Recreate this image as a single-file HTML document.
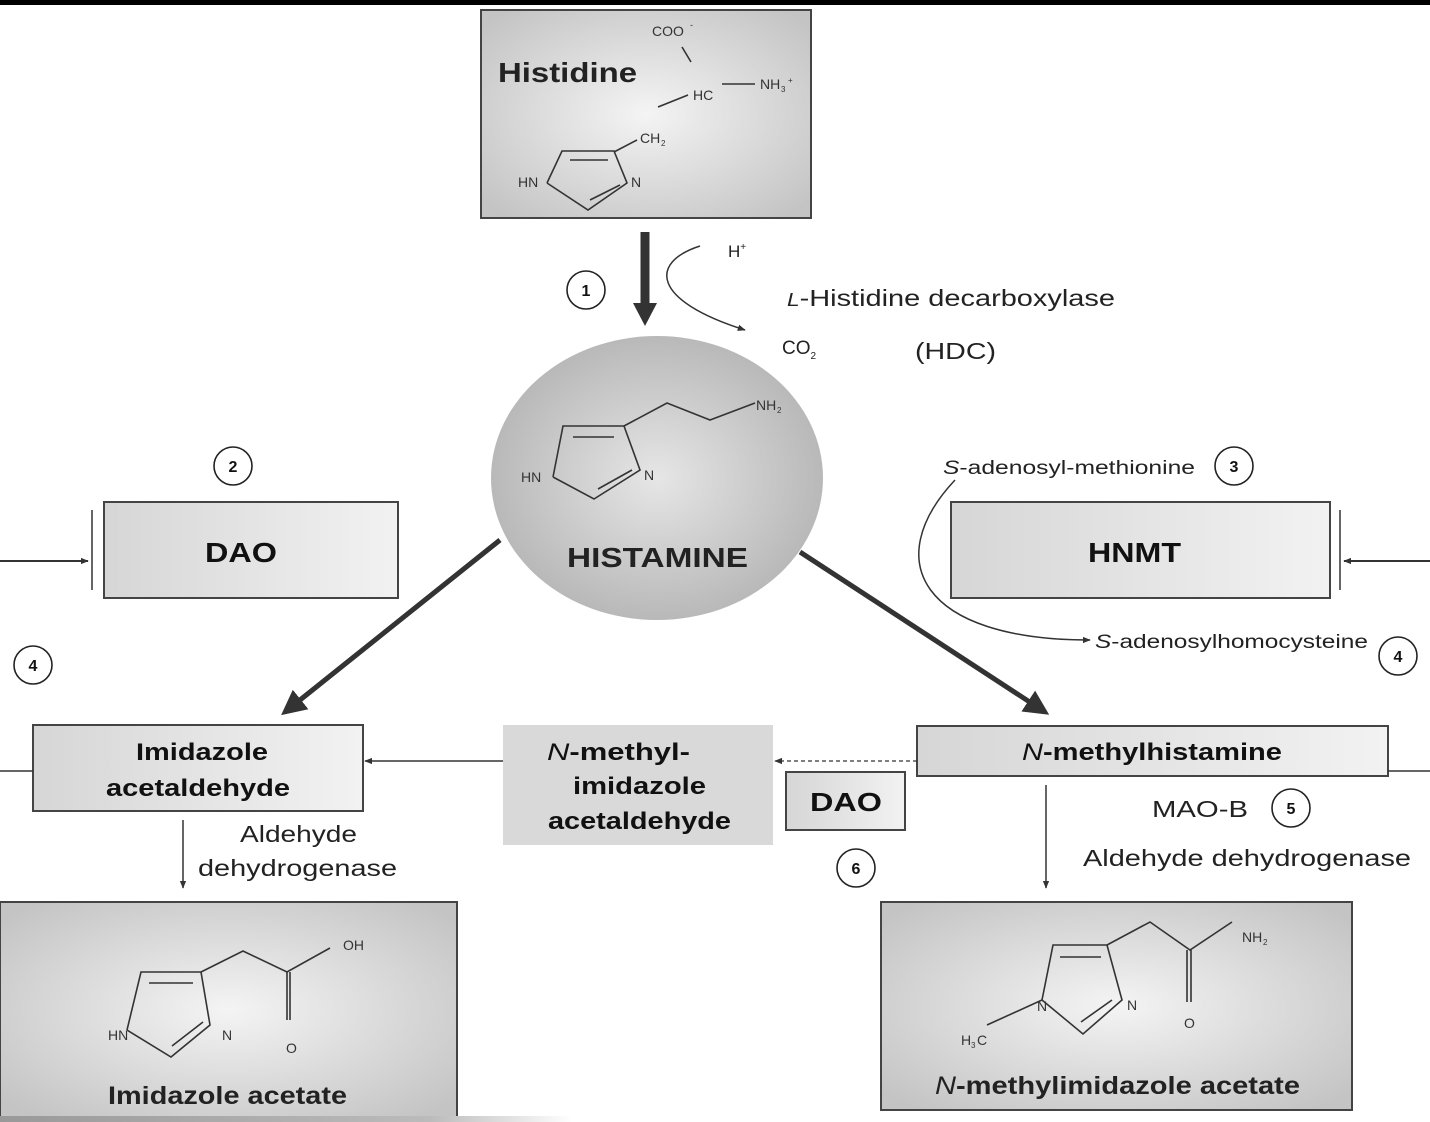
<!DOCTYPE html>
<html><head><meta charset="utf-8"><style>
html,body{margin:0;padding:0;background:#fff;}
svg{display:block;font-family:"Liberation Sans",sans-serif;}
</style></head><body>
<svg width="1430" height="1122" viewBox="0 0 1430 1122" xmlns="http://www.w3.org/2000/svg">
<defs>
<radialGradient id="g" cx="50%" cy="50%" r="65%"><stop offset="0" stop-color="#f4f4f4"/><stop offset="1" stop-color="#c4c4c4"/></radialGradient>
<radialGradient id="ge" cx="50%" cy="50%" r="55%"><stop offset="0" stop-color="#e6e6e6"/><stop offset="1" stop-color="#b4b4b4"/></radialGradient>
<linearGradient id="gb" x1="0" x2="1"><stop offset="0" stop-color="#d6d6d6"/><stop offset="1" stop-color="#f2f2f2"/></linearGradient>
<linearGradient id="bot" x1="0" x2="1"><stop offset="0" stop-color="#999"/><stop offset="0.3" stop-color="#bbb"/><stop offset="0.4" stop-color="#fff"/></linearGradient>
<marker id="ah" viewBox="0 0 10 10" refX="9" refY="5" markerWidth="8" markerHeight="8" orient="auto-start-reverse" markerUnits="userSpaceOnUse"><path d="M0,1 L10,5 L0,9 z" fill="#333"/></marker>
<marker id="ahb" viewBox="0 0 10 10" refX="8" refY="5" markerWidth="5" markerHeight="5" orient="auto"><path d="M0,0 L10,5 L0,10 z" fill="#333"/></marker>
</defs>
<rect x="0" y="0" width="1430" height="5" fill="#000"/>

<g stroke="#444" stroke-width="2">
<rect x="481" y="10" width="330" height="208" fill="url(#g)"/>
<rect x="104" y="502" width="294" height="96" fill="url(#gb)"/>
<rect x="951" y="502" width="379" height="96" fill="url(#gb)"/>
<rect x="33" y="725" width="330" height="86" fill="url(#gb)"/>
<rect x="503" y="725" width="270" height="120" fill="#d9d9d9" stroke="none"/>
<rect x="917" y="726" width="471" height="50" fill="url(#gb)"/>
<rect x="786" y="772" width="119" height="58" fill="url(#gb)"/>
<rect x="0" y="902" width="457" height="216" fill="url(#g)"/>
<rect x="881" y="902" width="471" height="208" fill="url(#g)"/>
</g>
<rect x="0" y="1116" width="1430" height="6" fill="url(#bot)"/>
<ellipse cx="657" cy="478" rx="166" ry="142" fill="url(#ge)"/>

<g stroke="#333" stroke-width="1.6" fill="none">
<line x1="682" y1="47" x2="691" y2="62"/><line x1="658" y1="107" x2="688" y2="95"/><line x1="722" y1="84" x2="755" y2="84"/>
<line x1="614" y1="152" x2="637" y2="140"/>
<polyline points="547,183 562,151 614,151 627,183 588,210 547,183"/>
<line x1="570" y1="160" x2="608" y2="160"/><line x1="590" y1="200" x2="620" y2="185"/>
</g>
<g font-size="14" fill="#333"><text x="652" y="36">COO</text><text x="690" y="28" font-size="9">-</text><text x="693" y="100">HC</text><text x="760" y="89">NH</text><text x="781" y="92" font-size="8">3</text><text x="788" y="83" font-size="8">+</text><text x="640" y="143">CH</text><text x="661" y="146" font-size="8">2</text><text x="518" y="187">HN</text><text x="631" y="187">N</text></g>
<text x="498" y="82" font-size="28" font-weight="bold" fill="#222" textLength="139" lengthAdjust="spacingAndGlyphs">Histidine</text>

<g stroke="#333" stroke-width="1.6" fill="none">
<polyline points="553,477 563,426 624,426 640,470 594,499 553,477"/>
<line x1="573" y1="437" x2="614" y2="437"/><line x1="598" y1="489" x2="632" y2="470"/>
<polyline points="624,426 667,403 710,420 755,403"/>
</g>
<g font-size="14" fill="#333"><text x="521" y="482">HN</text><text x="644" y="480">N</text><text x="756" y="410">NH</text><text x="777" y="413" font-size="8">2</text></g>
<text x="567" y="567" font-size="28" font-weight="bold" fill="#222" textLength="181" lengthAdjust="spacingAndGlyphs">HISTAMINE</text>

<g stroke="#333" stroke-width="1.6" fill="none">
<polyline points="127,1030 141,972 201,972 210,1025 171,1057 127,1030"/>
<line x1="149" y1="983" x2="193" y2="983"/><line x1="172" y1="1046" x2="203" y2="1022"/>
<polyline points="201,972 243,951 287,972 330,948"/>
<line x1="287" y1="972" x2="287" y2="1020"/><line x1="290" y1="972" x2="290" y2="1020"/>
</g>
<g font-size="14" fill="#333"><text x="108" y="1040">HN</text><text x="222" y="1040">N</text><text x="286" y="1053">O</text><text x="343" y="950">OH</text></g>
<text x="108" y="1104" font-size="25" font-weight="bold" fill="#222" textLength="239" lengthAdjust="spacingAndGlyphs">Imidazole acetate</text>

<g stroke="#333" stroke-width="1.6" fill="none">
<polyline points="1042,1000 1053,945 1107,945 1122,1000 1083,1034 1042,1000"/>
<line x1="1060" y1="957" x2="1101" y2="957"/><line x1="1081" y1="1022" x2="1112" y2="1000"/>
<polyline points="1107,945 1150,922 1190,950 1232,922"/>
<line x1="1187" y1="950" x2="1187" y2="1002"/><line x1="1191" y1="950" x2="1191" y2="1002"/>
<line x1="1042" y1="1000" x2="987" y2="1025"/>
</g>
<g font-size="14" fill="#333"><text x="1037" y="1011">N</text><text x="1127" y="1010">N</text><text x="1184" y="1028">O</text><text x="1242" y="942">NH</text><text x="1263" y="945" font-size="8">2</text><text x="961" y="1045">H</text><text x="971" y="1048" font-size="8">3</text><text x="977" y="1045">C</text></g>
<text x="935" y="1094" font-size="25" font-weight="bold" fill="#222" textLength="365" lengthAdjust="spacingAndGlyphs"><tspan font-style="italic" font-weight="normal">N</tspan>-methylimidazole acetate</text>

<g font-weight="bold" fill="#111">
<text x="205" y="562" font-size="28" textLength="72" lengthAdjust="spacingAndGlyphs">DAO</text>
<text x="1088" y="562" font-size="28" textLength="93" lengthAdjust="spacingAndGlyphs">HNMT</text>
<text x="136" y="760" font-size="24" textLength="132" lengthAdjust="spacingAndGlyphs">Imidazole</text>
<text x="106" y="796" font-size="24" textLength="184" lengthAdjust="spacingAndGlyphs">acetaldehyde</text>
<text x="547" y="760" font-size="24" textLength="143" lengthAdjust="spacingAndGlyphs"><tspan font-style="italic" font-weight="normal">N</tspan>-methyl-</text>
<text x="573" y="794" font-size="24" textLength="133" lengthAdjust="spacingAndGlyphs">imidazole</text>
<text x="548" y="829" font-size="24" textLength="183" lengthAdjust="spacingAndGlyphs">acetaldehyde</text>
<text x="1022" y="760" font-size="24" textLength="260" lengthAdjust="spacingAndGlyphs"><tspan font-style="italic" font-weight="normal">N</tspan>-methylhistamine</text>
<text x="810" y="811" font-size="26" textLength="72" lengthAdjust="spacingAndGlyphs">DAO</text>
</g>

<g stroke="#333" fill="none">
<line x1="645" y1="232" x2="645" y2="305" stroke-width="9"/>
<path d="M633,303 L657,303 L645,326 z" fill="#333" stroke="none"/>
<path d="M700,246 C650,262 650,300 745,330" stroke-width="1.5" marker-end="url(#ah)"/>
<line x1="500" y1="540" x2="285" y2="712" stroke-width="5" marker-end="url(#ahb)"/>
<line x1="800" y1="552" x2="1045" y2="712" stroke-width="5" marker-end="url(#ahb)"/>
<line x1="0" y1="561" x2="88" y2="561" stroke-width="2" marker-end="url(#ah)"/>
<line x1="92" y1="510" x2="92" y2="590" stroke-width="1.5"/>
<line x1="1430" y1="561" x2="1344" y2="561" stroke-width="2" marker-end="url(#ah)"/>
<line x1="1340" y1="510" x2="1340" y2="590" stroke-width="1.5"/>
<line x1="0" y1="771" x2="33" y2="771" stroke-width="1.5"/>
<line x1="1388" y1="771" x2="1430" y2="771" stroke-width="1.5"/>
<path d="M955,480 C880,560 920,640 1090,640" stroke-width="1.5" marker-end="url(#ah)"/>
<line x1="503" y1="761" x2="365" y2="761" stroke-width="1.5" marker-end="url(#ah)"/>
<line x1="917" y1="761" x2="775" y2="761" stroke-width="1.3" stroke-dasharray="4,3" marker-end="url(#ah)"/>
<line x1="183" y1="820" x2="183" y2="888" stroke-width="1.5" marker-end="url(#ah)"/>
<line x1="1046" y1="785" x2="1046" y2="888" stroke-width="1.5" marker-end="url(#ah)"/>
</g>

<g stroke="#222" stroke-width="1.6" fill="#fff">
<circle cx="586" cy="290" r="19"/><circle cx="233" cy="466" r="19"/><circle cx="33" cy="665" r="19"/>
<circle cx="1234" cy="466" r="19"/><circle cx="1398" cy="656" r="19"/><circle cx="1291" cy="808" r="19"/><circle cx="856" cy="868" r="19"/>
</g>
<g font-size="16" font-weight="bold" text-anchor="middle" fill="#111">
<text x="586" y="296">1</text><text x="233" y="472">2</text><text x="33" y="671">4</text><text x="1234" y="472">3</text><text x="1398" y="662">4</text><text x="1291" y="814">5</text><text x="856" y="874">6</text>
</g>

<g fill="#222">
<text x="728" y="257" font-size="17">H<tspan font-size="10" dy="-7">+</tspan></text>
<text x="787" y="306" font-size="23" textLength="328" lengthAdjust="spacingAndGlyphs"><tspan font-style="italic" font-size="18">L</tspan>-Histidine decarboxylase</text>
<text x="782" y="354" font-size="19">CO<tspan font-size="10" dy="5">2</tspan></text>
<text x="915" y="359" font-size="23" textLength="81" lengthAdjust="spacingAndGlyphs">(HDC)</text>
<text x="943" y="474" font-size="19" textLength="252" lengthAdjust="spacingAndGlyphs"><tspan font-style="italic">S</tspan>-adenosyl-methionine</text>
<text x="1095" y="648" font-size="19" textLength="273" lengthAdjust="spacingAndGlyphs"><tspan font-style="italic">S</tspan>-adenosylhomocysteine</text>
<text x="1152" y="817" font-size="23" textLength="96" lengthAdjust="spacingAndGlyphs">MAO-B</text>
<text x="1083" y="866" font-size="23" textLength="328" lengthAdjust="spacingAndGlyphs">Aldehyde dehydrogenase</text>
<text x="240" y="842" font-size="23" textLength="117" lengthAdjust="spacingAndGlyphs">Aldehyde</text>
<text x="198" y="876" font-size="23" textLength="199" lengthAdjust="spacingAndGlyphs">dehydrogenase</text>
</g>
</svg>
</body></html>
